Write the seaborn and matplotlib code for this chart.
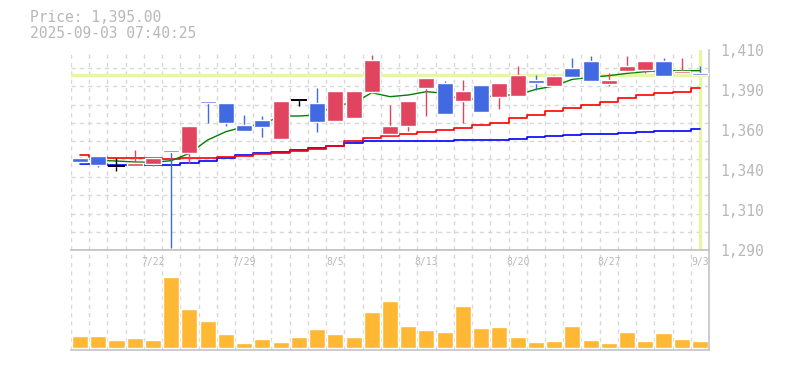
import numpy as np
import pandas as pd
import matplotlib
matplotlib.use("Agg")
import matplotlib.pyplot as plt
import seaborn as sns

# daily bars, 2025-07-15 .. 2025-09-03 (TSE trading days)
dates = ['7/15', '7/16', '7/17', '7/18', '7/22', '7/23', '7/24', '7/25', '7/28', '7/29',
         '7/30', '7/31', '8/1', '8/4', '8/5', '8/6', '8/7', '8/8', '8/12', '8/13',
         '8/14', '8/15', '8/18', '8/19', '8/20', '8/21', '8/22', '8/25', '8/26', '8/27',
         '8/28', '8/29', '9/1', '9/2', '9/3']
opens = [1345, 1346.5, 1340.5, 1340.5, 1341.5, 1350, 1348, 1379.5, 1378, 1365,
         1368, 1356.5, 1380, 1378, 1367.5, 1369, 1385, 1359.5, 1364.5, 1387,
         1390, 1379.5, 1389, 1382, 1382.5, 1392, 1388.5, 1399, 1403.5, 1389.5,
         1397.5, 1398, 1403.5, 1396, 1396.5]
highs = [1345, 1346.5, 1345, 1350, 1345, 1350, 1364.5, 1379.5, 1378, 1371,
         1370.5, 1379.5, 1380, 1387.5, 1385.5, 1385.5, 1407, 1377, 1379.5, 1393,
         1391.5, 1392, 1389, 1390, 1400.5, 1395, 1395, 1405.5, 1406.5, 1396,
         1406.5, 1403.5, 1405, 1405, 1400.5]
lows = [1343, 1340, 1337.5, 1340.5, 1340.5, 1291, 1342, 1366, 1364.5, 1361.5,
        1358, 1356.5, 1376.5, 1361, 1367.5, 1369, 1385, 1359.5, 1361.5, 1370.5,
        1371.5, 1366, 1373, 1374.5, 1382.5, 1386, 1388.5, 1394, 1391.5, 1388.5,
        1397.5, 1396, 1394.5, 1396, 1395]
closes = [1343, 1341, 1340.5, 1342, 1345, 1349, 1364.5, 1378, 1366, 1361.5,
          1364, 1379.5, 1380, 1367, 1385.5, 1385.5, 1404, 1364.5, 1379.5, 1393,
          1371.5, 1385.5, 1373, 1390, 1395, 1390, 1394.5, 1394, 1391.5, 1392,
          1400.5, 1403.5, 1394.5, 1397.5, 1395]
volumes = [11700, 11700, 7700, 9700, 7700, 71000, 38700, 26700, 13700, 4700,
           8700, 5700, 10700, 18700, 13700, 10700, 35700, 46700, 21700, 17700,
           15700, 41700, 19700, 20700, 10700, 5700, 6700, 21700, 7700, 4700,
           15700, 6700, 14700, 8700, 6700]
ma5 = [1345, 1343.8, 1343.4, 1342.8, 1342.6, 1343.6, 1348, 1356, 1361, 1364,
       1365.4, 1370.4, 1370.4, 1371, 1377, 1378, 1384.4, 1382, 1383, 1385,
       1384, 1379.6, 1381.4, 1383, 1383, 1386.4, 1388.4, 1392.4, 1393.6, 1394.6,
       1396, 1397, 1397.6, 1397.6, 1397.6]
ma25 = [1347, 1346, 1345, 1345, 1345, 1344.5, 1345, 1345.5, 1346, 1346.6,
        1347.4, 1348.4, 1349.6, 1350.8, 1352.4, 1355.5, 1357, 1358.6, 1359.4, 1360.6,
        1362, 1363.4, 1365, 1366.4, 1369, 1371, 1373.4, 1375.4, 1377, 1379,
        1381, 1383, 1384, 1385, 1387]
ma75 = [1341.6, 1341.6, 1340.8, 1340.8, 1340.8, 1340.8, 1342, 1343.4, 1345, 1347,
        1348, 1349, 1350, 1351.2, 1352.5, 1354.5, 1355.2, 1355.2, 1355.2, 1355.2,
        1355.4, 1355.8, 1355.8, 1356.2, 1356.8, 1357.6, 1358.3, 1358.9, 1359.4, 1359.4,
        1359.9, 1360.6, 1361.2, 1361.7, 1362.4]

price_ticks = [1290, 1314, 1338, 1362, 1386, 1410]
price_labels = ['1,290', '1,310', '1,340', '1,360', '1,390', '1,410']
date_ticks = ['7/22', '7/29', '8/5', '8/13', '8/20', '8/27', '9/3']
last_price = 1395.00
stamp = '2025-09-03 07:40:25'

UP = '#E0445E'
DOWN = '#4169E1'
VOL = '#FFB833'
HILITE = '#E6F5A8'
GRID = '#d8d8d8'
FRAME = '#c4c4c4'
TXT = '#b8b8b8'

df = pd.DataFrame({'date': dates, 'open': opens, 'high': highs, 'low': lows,
                   'close': closes, 'volume': volumes,
                   'ma5': ma5, 'ma25': ma25, 'ma75': ma75})
df['pos'] = np.arange(len(df))
n = len(df)

sns.set_style("white")
plt.rcParams['font.family'] = ['DejaVu Sans Mono']

fig = plt.figure(figsize=(7.85, 3.70), dpi=100)
W, H = 785, 370
ax = fig.add_axes([70.9 / W, 120 / H, 638.2 / W, 200 / H])
axv = fig.add_axes([70.9 / W, 20 / H, 638.2 / W, 100 / H])

# ---- price panel ----
ax.axhline(last_price, color=HILITE, lw=2.4, zorder=1)
ax.axvline(n - 1, color=HILITE, lw=2.4, zorder=1)

sns.lineplot(data=df, x='pos', y='ma75', color='#0000ff', lw=1.2,
             drawstyle='steps-mid', errorbar=None, ax=ax, zorder=2)
sns.lineplot(data=df, x='pos', y='ma25', color='#ff0000', lw=1.2,
             drawstyle='steps-mid', errorbar=None, ax=ax, zorder=2)
sns.lineplot(data=df, x='pos', y='ma5', color='#008000', lw=1.0,
             errorbar=None, ax=ax, zorder=2)

colors = np.where(df['close'] > df['open'], UP,
                  np.where(df['close'] < df['open'], DOWN, 'black'))
ax.vlines(df['pos'], df['low'], df['high'], colors=colors, lw=1.0, zorder=3)
ax.bar(df['pos'], (df['close'] - df['open']).abs(),
       bottom=np.minimum(df['open'], df['close']),
       width=0.88, color=colors, zorder=4)
doji = df[df['open'] == df['close']]
ax.hlines(doji['close'], doji['pos'] - 0.44, doji['pos'] + 0.44,
          colors='black', lw=1.4, zorder=4)

ax.set_xlim(-0.5, n - 0.5)
ax.set_ylim(1290, 1410)
ax.set_xlabel('')
ax.set_ylabel('')
ax.set_xticks([])
ax.set_xticks(np.arange(-0.5, n), minor=True)
ax.yaxis.tick_right()
ax.set_yticks(price_ticks)
ax.set_yticklabels(price_labels)
ax.set_yticks(np.linspace(1290, 1410, 12), minor=True)
ax.tick_params(axis='y', which='major', length=0, pad=8, labelsize=10.5, labelcolor=TXT)
ax.tick_params(which='minor', length=0)
ax.grid(False)
ax.grid(which='minor', color=GRID, ls=(0, (3, 3)), lw=1.0, zorder=0)
for side in ['top', 'left']:
    ax.spines[side].set_visible(False)
for side in ['right', 'bottom']:
    ax.spines[side].set_color(FRAME)
    ax.spines[side].set_linewidth(1.2)

# ---- volume panel ----
sns.barplot(data=df, x='date', y='volume', color=VOL, saturation=1,
            width=0.88, ax=axv, zorder=2)
axv.set_xlim(-0.5, n - 0.5)
axv.set_ylim(-2300, 97700)
axv.set_xlabel('')
axv.set_ylabel('')
axv.set_xticks([])
axv.set_yticks([])
axv.set_xticks(np.arange(-0.5, n), minor=True)
axv.tick_params(which='minor', length=0)
axv.grid(False)
axv.grid(which='minor', axis='x', color=GRID, ls=(0, (3, 3)), lw=1.0, zorder=0)
axv.spines['left'].set_visible(False)
for side in ['top', 'bottom', 'right']:
    axv.spines[side].set_color(FRAME)
    axv.spines[side].set_linewidth(1.2)

for d in date_ticks:
    axv.text(dates.index(d), 0.875, d, transform=axv.get_xaxis_transform(),
             ha='center', va='center', fontsize=7, color=TXT)

# ---- header ----
fig.text(30 / W, 1 - 18 / H, f"Price: {last_price:,.2f}", fontsize=10.5,
         color=TXT, va='center', ha='left')
fig.text(30 / W, 1 - 33 / H, stamp, fontsize=10.5, color=TXT, va='center', ha='left')

fig.savefig('out.png', dpi=100)
